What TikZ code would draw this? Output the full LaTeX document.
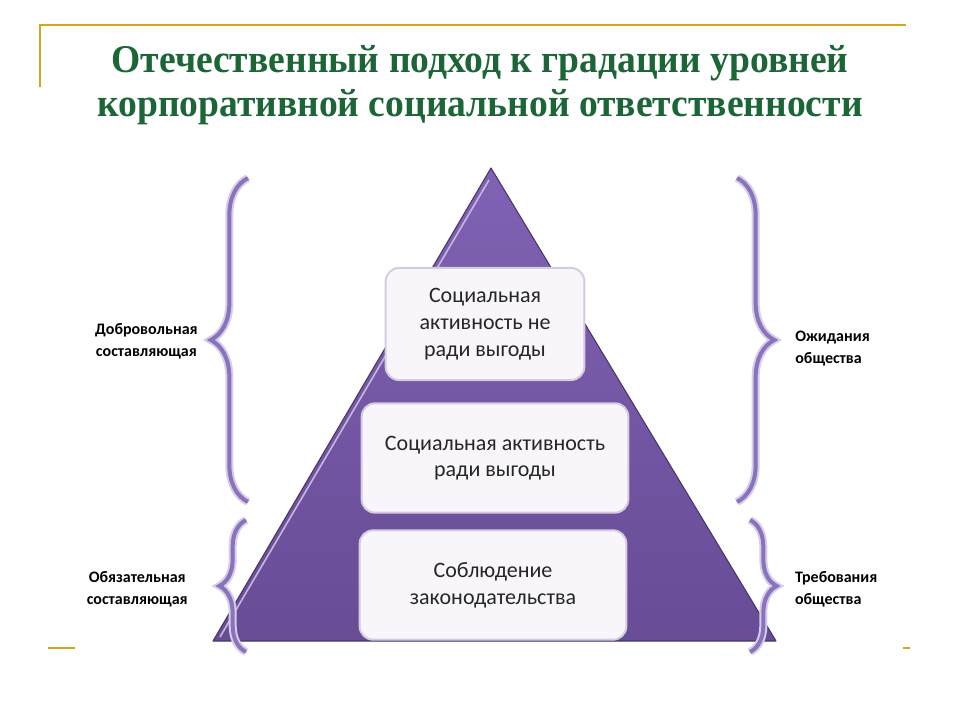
\documentclass[tikz,border=0pt]{standalone}
\usepackage{fontspec}
\setmainfont{Carlito}
\newfontfamily\titlefont{Liberation Serif}[FakeStretch=0.955]
\usetikzlibrary{positioning, calc, decorations.pathreplacing}

\definecolor{kgreen}{HTML}{1B6536}
\definecolor{kgold}{HTML}{D4A520}
\definecolor{kpurple}{HTML}{684C96}
\definecolor{kpurplelt}{HTML}{8062B4}
\definecolor{kbrace}{HTML}{8A72BC}
\definecolor{kbox}{HTML}{F8F6FB}
\definecolor{kboxline}{HTML}{D5CCE0}

\begin{document}
\begin{tikzpicture}[x=0.75pt, y=-0.75pt,
        level/.style={draw=kboxline, line width=1.5pt, fill=kbox, rounded corners=10pt,
            align=center, text=black!85, font=\fontsize{16.5}{20}\selectfont},
        side/.style={align=center, font=\bfseries\fontsize{12}{16.5}\selectfont},
        curly/.style={decorate, decoration={brace, amplitude=#1}, draw=kbrace, line width=3pt},
        glow/.style={decorate, decoration={brace, amplitude=#1}, draw=kbrace!35, line width=6pt},
        goldline/.style={draw=kgold, line width=1.5pt}]

        \useasboundingbox (0,0) rectangle (960,720);

        \draw[goldline] (40,87) -- (40,25) -- (906,25);
        \draw[goldline] (48,648) -- (75,648);
        \draw[goldline] (903,648) -- (910,648);

        \node at (480,85) [align=center, text=kgreen, font=\titlefont\bfseries\fontsize{29.5}{32.5}\selectfont] (title)
            {Отечественный подход к градации уровней\\корпоративной социальной ответственности};

        \coordinate (apex) at (491,168);
        \coordinate (bl) at (213,641);
        \coordinate (br) at (776,641);
        \shade[top color=kpurplelt, bottom color=kpurple] (apex) -- (bl) -- (br) -- cycle;
        \draw[kpurple!70!black, line width=0.8pt, line join=round] (apex) -- (bl) -- (br) -- cycle;
        \draw[kpurplelt!45!white, line width=1.2pt] ($(bl)+(7,-4)$) -- ($(apex)+(-2,12)$);

        \node at (485,324) [level, minimum width=149pt, minimum height=84pt] (top)
            {Социальная\\активность не\\ради выгоды};
        \node at (495,458) [level, minimum width=200pt, minimum height=82pt] (mid)
            {Социальная активность\\ради выгоды};
        \node at (493,585) [level, minimum width=200pt, minimum height=82pt] (low)
            {Соблюдение\\законодательства};

        \coordinate (lA1) at (248,502);
        \coordinate (lA2) at (248,178);
        \coordinate (lB1) at (246,652);
        \coordinate (lB2) at (246,520);
        \coordinate (rA1) at (737,178);
        \coordinate (rA2) at (737,502);
        \coordinate (rB1) at (750,520);
        \coordinate (rB2) at (750,652);

        \foreach \a/\b/\amp in {lA1/lA2/28pt, lB1/lB2/20pt, rA1/rA2/28pt, rB1/rB2/20pt} {
            \draw[glow=\amp] (\a) -- (\b);
            \draw[curly=\amp] (\a) -- (\b);
        }

        \coordinate (lAtip) at (205,341);
        \coordinate (lBtip) at (219,589);
        \coordinate (rAtip) at (780,349);
        \coordinate (rBtip) at (777,589);

        \node[side, left=2pt of lAtip] (vol) {Добровольная\\составляющая};
        \node[side, left=20pt of lBtip] (must) {Обязательная\\составляющая};
        \node[side, right=8pt of rAtip, align=left] (expect) {Ожидания\\общества};
        \node[side, right=10pt of rBtip, align=left] (demand) {Требования\\общества};

      \end{tikzpicture}
\end{document}
